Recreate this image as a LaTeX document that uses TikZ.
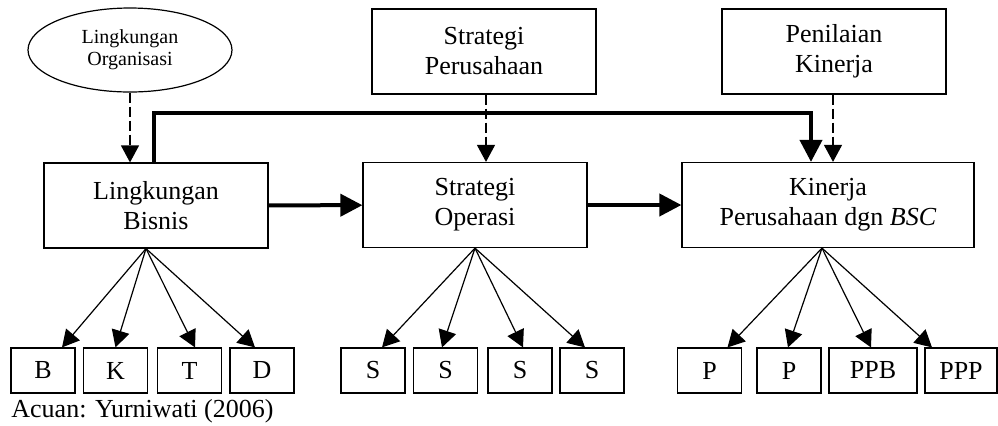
\documentclass[tikz,border=0pt]{standalone}
\usepackage{fontspec}
\setmainfont{Liberation Serif}
\usetikzlibrary{arrows.meta,shapes.geometric}

\begin{document}
\begin{tikzpicture}[x=0.5pt, y=-0.5pt,
	every node/.style={font=\fontsize{13}{15}\selectfont, align=center, inner sep=0pt},
	kotak/.style={draw, line width=0.6pt, minimum height=42.5pt},
	kecil/.style={draw, line width=0.6pt, minimum width=32pt, minimum height=22.5pt},
	panah/.style={-{Triangle[length=8.5pt,width=9pt]}, line width=0.6pt},
	tebal/.style={-{Triangle[length=11pt,width=11pt]}, line width=2pt},
	putus/.style={-{Triangle[length=8.5pt,width=9pt]}, line width=0.6pt, dash pattern=on 5pt off 2pt}]
	\useasboundingbox (0,0) rectangle (998,425);
	% kotak utama
	\node[draw, ellipse, line width=0.6pt, minimum width=102pt, minimum height=42pt, font=\fontsize{10}{11}\selectfont] (org) at (130,50) {Lingkungan\\Organisasi};
	\node[kotak, minimum width=112pt] (strat) at (484,51.5) {Strategi\\Perusahaan};
	\node[kotak, minimum width=112pt] (nilai) at (834,51.5) {Penilaian\\Kinerja};
	\node[kotak, minimum width=112pt] (bisnis) at (156,205.5) {Lingkungan\\Bisnis};
	\node[kotak, minimum width=112pt] (operasi) at (475,205) {Strategi\\Operasi};
	\node[kotak, minimum width=146pt] (kinerja) at (828,205) {Kinerja\\Perusahaan dgn \emph{BSC}};
	% kotak kecil
	\node[kecil] (b) at (43,370.5) {B};
	\node[kecil] (k) at (115.5,370.5) {K};
	\node[kecil] (t) at (189.5,370.5) {T};
	\node[kecil] (d) at (262,370.5) {D};
	\node[kecil] (s1) at (373,370.5) {S};
	\node[kecil] (s2) at (445.5,370.5) {S};
	\node[kecil] (s3) at (520,370.5) {S};
	\node[kecil] (s4) at (592,370.5) {S};
	\node[kecil] (p1) at (709.5,370.5) {P};
	\node[kecil] (p2) at (789,370.5) {P};
	\node[kecil, minimum width=44pt] (ppb) at (873,370.5) {PPB};
	\node[kecil, minimum width=36pt] (ppp) at (961,370.5) {PPP};
	\node[anchor=base west] (acuan) at (11,417) {Acuan: Yurniwati (2006)};
	% panah putus-putus
	\draw[putus] (org.south) -- (org.south |- bisnis.north);
	\draw[putus] ([xshift=1pt]strat.south) -- ([xshift=1pt]strat.south |- operasi.north);
	\draw[putus] ([xshift=-0.5pt]nilai.south) -- ([xshift=-0.5pt]nilai.south |- kinerja.north);
	% panah tebal
	\draw[tebal] (bisnis) -- (operasi);
	\draw[tebal] (operasi) -- (kinerja);
	\draw[tebal] ([xshift=-1pt]bisnis.north) -- ++(0,-49) -| ([xshift=-8.5pt]kinerja.north);
	% cabang ke bawah
	\draw[panah] ([xshift=-5pt]bisnis.south) -- ([xshift=9.5pt]b.north);
	\draw[panah] ([xshift=-5pt]bisnis.south) -- (k.north);
	\draw[panah] ([xshift=-5pt]bisnis.south) -- ([xshift=2.75pt]t.north);
	\draw[panah] ([xshift=-5pt]bisnis.south) -- ([xshift=-3.5pt]d.north);
	\draw[panah] (operasi.south) -- ([xshift=4.5pt]s1.north);
	\draw[panah] (operasi.south) -- ([xshift=-1.75pt]s2.north);
	\draw[panah] (operasi.south) -- ([xshift=1.5pt]s3.north);
	\draw[panah] (operasi.south) -- ([xshift=-3.5pt]s4.north);
	\draw[panah] ([xshift=-3pt]kinerja.south) -- ([xshift=9pt]p1.north);
	\draw[panah] ([xshift=-3pt]kinerja.south) -- ([xshift=-0.5pt]p2.north);
	\draw[panah] ([xshift=-3pt]kinerja.south) -- ([xshift=-1pt]ppb.north);
	\draw[panah] ([xshift=-3pt]kinerja.south) -- ([xshift=-14.5pt]ppp.north);
\end{tikzpicture}
\end{document}
